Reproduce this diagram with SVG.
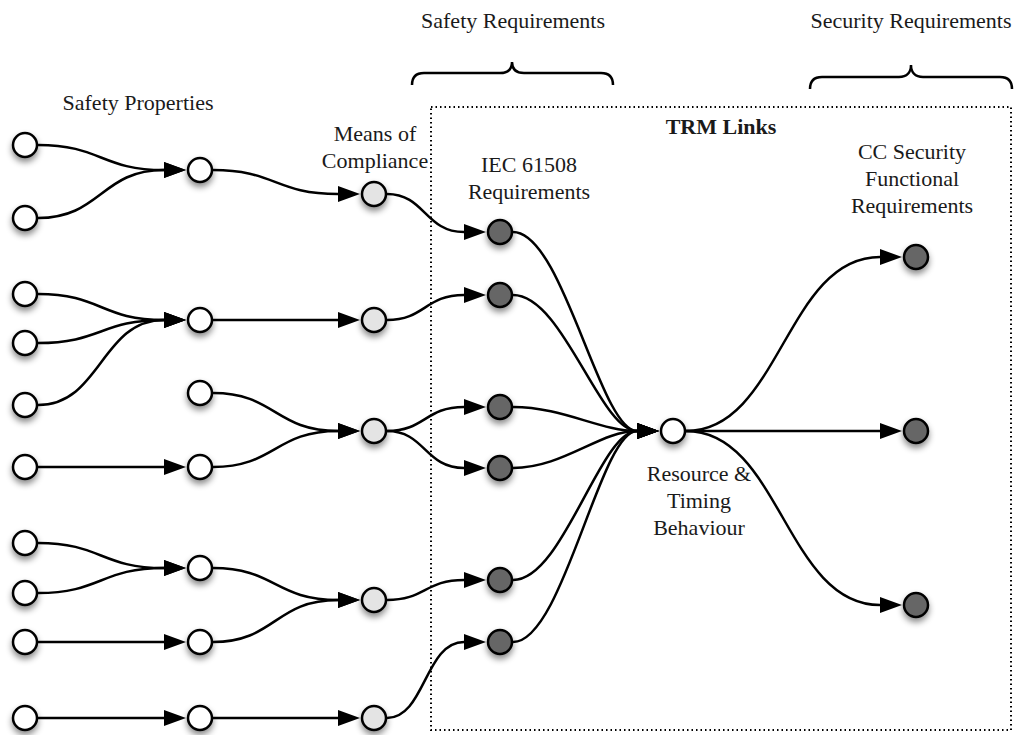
<svg xmlns="http://www.w3.org/2000/svg" width="1016" height="735" viewBox="0 0 1016 735">
  <defs>
    <filter id="shadow" x="-60%" y="-60%" width="220%" height="240%">
      <feDropShadow dx="0" dy="4" stdDeviation="3" flood-color="#000" flood-opacity="0.45"/>
    </filter>
    <marker id="arrow" markerUnits="userSpaceOnUse" markerWidth="23" markerHeight="18" refX="0" refY="9" orient="auto">
      <path d="M0,1 L22,9 L0,17 Z" fill="#000"/>
    </marker>
  </defs>
  <style>
    text { font-family: "Liberation Serif", "Times New Roman", serif; font-size: 22px; fill: #1a1a1a; text-anchor: middle; }
    .bold { font-weight: bold; }
    .node circle { stroke: #000; stroke-width: 2.5; filter: url(#shadow); }
    .white circle { fill: #fff; }
    .light circle { fill: #e4e4e4; }
    .dark circle { fill: #666; }
    #connectors path { fill: none; stroke: #000; stroke-width: 2.5; marker-end: url(#arrow); }
    .brace { fill: none; stroke: #000; stroke-width: 2.5; }
    .frame { fill: none; stroke: #000; stroke-width: 2; stroke-dasharray: 1.5 3; }
  </style>

  <rect width="1016" height="735" fill="#fff"/>

  <!-- TRM links frame -->
  <rect class="frame" x="431" y="107" width="580" height="623"/>

  <!-- braces -->
  <path class="brace" d="M412,85 C412,77 416,73 424,73 L500,73 C508,73 512,69 512,62 C512,69 516,73 524,73 L601,73 C609,73 613,77 613,85"/>
  <path class="brace" d="M810,89 C810,81 814,77 822,77 L899,77 C907,77 911,72 911,65 C911,72 915,77 923,77 L1000,77 C1008,77 1012,81 1012,89"/>

  <!-- labels -->
  <text x="513" y="28">Safety Requirements</text>
  <text x="911" y="28">Security Requirements</text>
  <text x="138" y="110">Safety Properties</text>
  <text x="375" y="141">Means of</text>
  <text x="375" y="168">Compliance</text>
  <text x="529" y="172">IEC 61508</text>
  <text x="529" y="199">Requirements</text>
  <text class="bold" x="721" y="134">TRM Links</text>
  <text x="912" y="159">CC Security</text>
  <text x="912" y="186">Functional</text>
  <text x="912" y="213">Requirements</text>
  <text x="699" y="481">Resource &amp;</text>
  <text x="699" y="508">Timing</text>
  <text x="699" y="535">Behaviour</text>

  <g id="connectors">
    <!-- properties to intermediate properties -->
    <path d="M38,145 C101,145 101,170 164,170"/>
    <path d="M38,218 C101,218 101,170 164,170"/>
    <path d="M38,294 C101,294 101,320 164,320"/>
    <path d="M38,343 C101,343 101,320 164,320"/>
    <path d="M38,405 C101,405 101,320 164,320"/>
    <path d="M38,467 C101,467 101,467 164,467"/>
    <path d="M38,543 C101,543 101,568 164,568"/>
    <path d="M38,593 C101,593 101,568 164,568"/>
    <path d="M38,642 C101,642 101,642 164,642"/>
    <path d="M38,718 C101,718 101,718 164,718"/>
    <!-- to means of compliance -->
    <path d="M213,170 C275,170 275,194 338,194"/>
    <path d="M213,320 C275,320 275,320 338,320"/>
    <path d="M213,393 C275,393 275,431 338,431"/>
    <path d="M213,467 C275,467 275,431 338,431"/>
    <path d="M213,568 C275,568 275,600 338,600"/>
    <path d="M213,642 C275,642 275,600 338,600"/>
    <path d="M213,718 C275,718 275,718 338,718"/>
    <!-- to IEC 61508 requirements -->
    <path d="M387,194 C425,194 425,232 464,232"/>
    <path d="M387,320 C425,320 425,295 464,295"/>
    <path d="M387,431 C425,431 425,407 464,407"/>
    <path d="M387,431 C425,431 425,468 464,468"/>
    <path d="M387,600 C425,600 425,580 464,580"/>
    <path d="M387,718 C425,718 425,642 464,642"/>
    <!-- to resource & timing behaviour -->
    <path d="M513,232 C563,232 600,431 637,431"/>
    <path d="M513,295 C563,295 600,431 637,431"/>
    <path d="M513,407 C563,407 600,431 637,431"/>
    <path d="M513,468 C563,468 600,431 637,431"/>
    <path d="M513,580 C563,580 600,431 637,431"/>
    <path d="M513,642 C563,642 600,431 637,431"/>
    <!-- to CC security functional requirements -->
    <path d="M686,431 C780,431 786,257 880,257"/>
    <path d="M686,431 C780,431 786,431 880,431"/>
    <path d="M686,431 C780,431 786,605 880,605"/>
  </g>

  <!-- safety properties -->
  <g id="sp1" class="node white"><circle cx="25" cy="145" r="12"/></g>
  <g id="sp2" class="node white"><circle cx="25" cy="218" r="12"/></g>
  <g id="sp3" class="node white"><circle cx="25" cy="294" r="12"/></g>
  <g id="sp4" class="node white"><circle cx="25" cy="343" r="12"/></g>
  <g id="sp5" class="node white"><circle cx="25" cy="405" r="12"/></g>
  <g id="sp6" class="node white"><circle cx="25" cy="467" r="12"/></g>
  <g id="sp7" class="node white"><circle cx="25" cy="543" r="12"/></g>
  <g id="sp8" class="node white"><circle cx="25" cy="593" r="12"/></g>
  <g id="sp9" class="node white"><circle cx="25" cy="642" r="12"/></g>
  <g id="sp10" class="node white"><circle cx="25" cy="718" r="12"/></g>

  <!-- derived properties -->
  <g id="dp1" class="node white"><circle cx="200" cy="170" r="12"/></g>
  <g id="dp2" class="node white"><circle cx="200" cy="320" r="12"/></g>
  <g id="dp3" class="node white"><circle cx="200" cy="393" r="12"/></g>
  <g id="dp4" class="node white"><circle cx="200" cy="467" r="12"/></g>
  <g id="dp5" class="node white"><circle cx="200" cy="568" r="12"/></g>
  <g id="dp6" class="node white"><circle cx="200" cy="642" r="12"/></g>
  <g id="dp7" class="node white"><circle cx="200" cy="718" r="12"/></g>

  <!-- means of compliance -->
  <g id="mc1" class="node light"><circle cx="374" cy="194" r="12"/></g>
  <g id="mc2" class="node light"><circle cx="374" cy="320" r="12"/></g>
  <g id="mc3" class="node light"><circle cx="374" cy="431" r="12"/></g>
  <g id="mc4" class="node light"><circle cx="374" cy="600" r="12"/></g>
  <g id="mc5" class="node light"><circle cx="374" cy="718" r="12"/></g>

  <!-- IEC 61508 requirements -->
  <g id="iec1" class="node dark"><circle cx="500" cy="232" r="12"/></g>
  <g id="iec2" class="node dark"><circle cx="500" cy="295" r="12"/></g>
  <g id="iec3" class="node dark"><circle cx="500" cy="407" r="12"/></g>
  <g id="iec4" class="node dark"><circle cx="500" cy="468" r="12"/></g>
  <g id="iec5" class="node dark"><circle cx="500" cy="580" r="12"/></g>
  <g id="iec6" class="node dark"><circle cx="500" cy="642" r="12"/></g>

  <!-- resource & timing behaviour -->
  <g id="rtb" class="node white"><circle cx="673" cy="431" r="12"/></g>

  <!-- CC security functional requirements -->
  <g id="sfr1" class="node dark"><circle cx="916" cy="257" r="12"/></g>
  <g id="sfr2" class="node dark"><circle cx="916" cy="431" r="12"/></g>
  <g id="sfr3" class="node dark"><circle cx="916" cy="605" r="12"/></g>
</svg>
